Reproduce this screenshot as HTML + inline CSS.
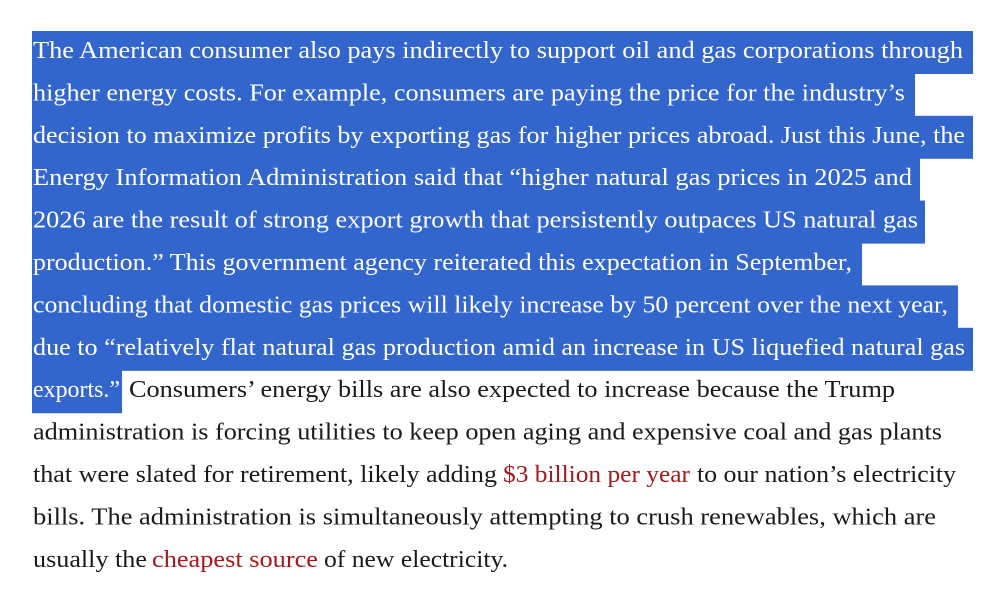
<!DOCTYPE html>
<html><head><meta charset="utf-8"><style>
html,body{margin:0;padding:0;background:#fff;width:1003px;height:606px;overflow:hidden}
text{font-family:"Liberation Serif",serif;font-size:24.5px}
.w{fill:#fff}.b{fill:#1a1a1a}.r{fill:#a3191c}
</style></head><body>
<svg width="1003" height="606" xmlns="http://www.w3.org/2000/svg">
<g fill="#3366cc">
<rect x="32" y="31" width="941" height="43"/>
<rect x="32" y="73.4" width="883" height="43"/>
<rect x="32" y="115.8" width="941" height="43"/>
<rect x="32" y="158.2" width="888" height="43"/>
<rect x="32" y="200.6" width="893" height="43"/>
<rect x="32" y="243" width="830" height="43"/>
<rect x="32" y="285.4" width="926" height="43"/>
<rect x="32" y="327.8" width="941" height="43"/>
<rect x="32" y="370.2" width="90" height="43"/>
</g>
<g class="w">
<text x="33" y="58" textLength="930" lengthAdjust="spacingAndGlyphs">The American consumer also pays indirectly to support oil and gas corporations through</text>
<text x="33" y="100.4" textLength="872" lengthAdjust="spacingAndGlyphs">higher energy costs. For example, consumers are paying the price for the industry’s</text>
<text x="33" y="142.8" textLength="932" lengthAdjust="spacingAndGlyphs">decision to maximize profits by exporting gas for higher prices abroad. Just this June, the</text>
<text x="33" y="185.2" textLength="879" lengthAdjust="spacingAndGlyphs">Energy Information Administration said that “higher natural gas prices in 2025 and</text>
<text x="33" y="227.6" textLength="885" lengthAdjust="spacingAndGlyphs">2026 are the result of strong export growth that persistently outpaces US natural gas</text>
<text x="33" y="270" textLength="819" lengthAdjust="spacingAndGlyphs">production.” This government agency reiterated this expectation in September,</text>
<text x="33" y="312.4" textLength="915" lengthAdjust="spacingAndGlyphs">concluding that domestic gas prices will likely increase by 50 percent over the next year,</text>
<text x="33" y="354.8" textLength="932" lengthAdjust="spacingAndGlyphs">due to “relatively flat natural gas production amid an increase in US liquefied natural gas</text>
<text x="33" y="397.2" textLength="87" lengthAdjust="spacingAndGlyphs">exports.”</text>
</g>
<g class="b">
<text x="129" y="397.2" textLength="766" lengthAdjust="spacingAndGlyphs">Consumers’ energy bills are also expected to increase because the Trump</text>
<text x="33" y="439.6" textLength="909" lengthAdjust="spacingAndGlyphs">administration is forcing utilities to keep open aging and expensive coal and gas plants</text>
<text x="33" y="482" textLength="464" lengthAdjust="spacingAndGlyphs">that were slated for retirement, likely adding</text>
<text class="r" x="503" y="482" textLength="187" lengthAdjust="spacingAndGlyphs">$3 billion per year</text>
<text x="697" y="482" textLength="259" lengthAdjust="spacingAndGlyphs">to our nation’s electricity</text>
<text x="33" y="524.4" textLength="903" lengthAdjust="spacingAndGlyphs">bills. The administration is simultaneously attempting to crush renewables, which are</text>
<text x="33" y="566.8" textLength="114" lengthAdjust="spacingAndGlyphs">usually the</text>
<text class="r" x="152" y="566.8" textLength="166" lengthAdjust="spacingAndGlyphs">cheapest source</text>
<text x="324" y="566.8" textLength="184" lengthAdjust="spacingAndGlyphs">of new electricity.</text>
</g>
</svg>
</body></html>
